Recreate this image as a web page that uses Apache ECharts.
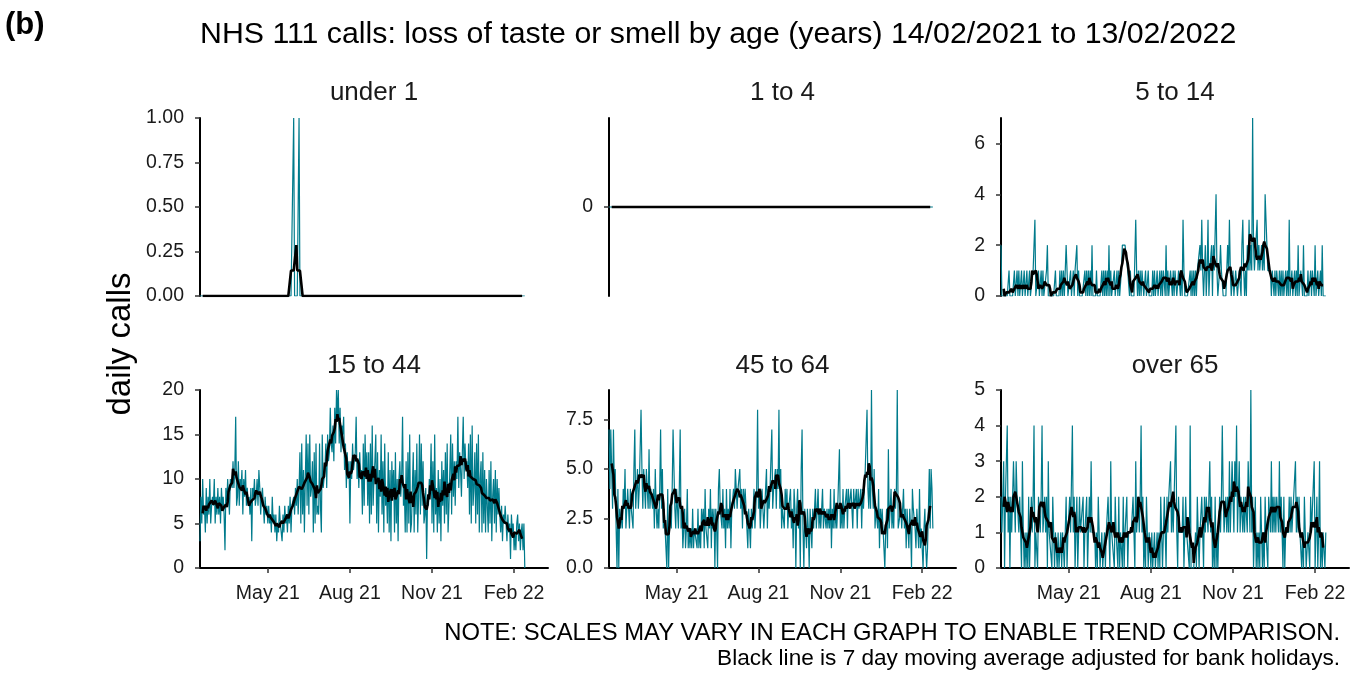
<!DOCTYPE html>
<html>
<head>
<meta charset="utf-8">
<script src="https://cdn.jsdelivr.net/npm/echarts@6/dist/echarts.min.js"></script>
<style>
  html, body { margin: 0; padding: 0; background: #ffffff; }
  #chart { width: 1362px; height: 673px; }
</style>
</head>
<body>
<div id="chart"></div>
<script>
// Daily NHS 111 calls (loss of taste or smell), one value per day from 14/02/2021
const START_DATE = '2021-02-14';
const panelNames = ['under 1', '1 to 4', '5 to 14', '15 to 44', '45 to 64', 'over 65'];

const callsUnder1 = [
  0,0,0,0,0,0,0, 0,0,0,0,0,0,0, 0,0,0,0,0,0,0, 0,0,0,0,0,0,0,
  0,0,0,0,0,0,0, 0,0,0,0,0,0,0, 0,0,0,0,0,0,0, 0,0,0,0,0,0,0,
  0,0,0,0,0,0,0, 0,0,0,0,0,0,0, 0,0,0,0,0,0,0, 0,0,0,0,0,0,0,
  0,0,0,0,0,0,0, 0,0,0,0,0,0,0, 0,0,0,0,0,0,0, 1,0,0,0,0,0,1,
  0,0,0,0,0,0,0, 0,0,0,0,0,0,0, 0,0,0,0,0,0,0, 0,0,0,0,0,0,0,
  0,0,0,0,0,0,0, 0,0,0,0,0,0,0, 0,0,0,0,0,0,0, 0,0,0,0,0,0,0,
  0,0,0,0,0,0,0, 0,0,0,0,0,0,0, 0,0,0,0,0,0,0, 0,0,0,0,0,0,0,
  0,0,0,0,0,0,0, 0,0,0,0,0,0,0, 0,0,0,0,0,0,0, 0,0,0,0,0,0,0,
  0,0,0,0,0,0,0, 0,0,0,0,0,0,0, 0,0,0,0,0,0,0, 0,0,0,0,0,0,0,
  0,0,0,0,0,0,0, 0,0,0,0,0,0,0, 0,0,0,0,0,0,0, 0,0,0,0,0,0,0,
  0,0,0,0,0,0,0, 0,0,0,0,0,0,0, 0,0,0,0,0,0,0, 0,0,0,0,0,0,0,
  0,0,0,0,0,0,0, 0,0,0,0,0,0,0, 0,0,0,0,0,0,0, 0,0,0,0,0,0,0,
  0,0,0,0,0,0,0, 0,0,0,0,0,0,0, 0,0,0,0,0,0,0, 0,0,0,0,0,0,0,
  0
];

const calls1to4 = [
  0,0,0,0,0,0,0, 0,0,0,0,0,0,0, 0,0,0,0,0,0,0, 0,0,0,0,0,0,0,
  0,0,0,0,0,0,0, 0,0,0,0,0,0,0, 0,0,0,0,0,0,0, 0,0,0,0,0,0,0,
  0,0,0,0,0,0,0, 0,0,0,0,0,0,0, 0,0,0,0,0,0,0, 0,0,0,0,0,0,0,
  0,0,0,0,0,0,0, 0,0,0,0,0,0,0, 0,0,0,0,0,0,0, 0,0,0,0,0,0,0,
  0,0,0,0,0,0,0, 0,0,0,0,0,0,0, 0,0,0,0,0,0,0, 0,0,0,0,0,0,0,
  0,0,0,0,0,0,0, 0,0,0,0,0,0,0, 0,0,0,0,0,0,0, 0,0,0,0,0,0,0,
  0,0,0,0,0,0,0, 0,0,0,0,0,0,0, 0,0,0,0,0,0,0, 0,0,0,0,0,0,0,
  0,0,0,0,0,0,0, 0,0,0,0,0,0,0, 0,0,0,0,0,0,0, 0,0,0,0,0,0,0,
  0,0,0,0,0,0,0, 0,0,0,0,0,0,0, 0,0,0,0,0,0,0, 0,0,0,0,0,0,0,
  0,0,0,0,0,0,0, 0,0,0,0,0,0,0, 0,0,0,0,0,0,0, 0,0,0,0,0,0,0,
  0,0,0,0,0,0,0, 0,0,0,0,0,0,0, 0,0,0,0,0,0,0, 0,0,0,0,0,0,0,
  0,0,0,0,0,0,0, 0,0,0,0,0,0,0, 0,0,0,0,0,0,0, 0,0,0,0,0,0,0,
  0,0,0,0,0,0,0, 0,0,0,0,0,0,0, 0,0,0,0,0,0,0, 0,0,0,0,0,0,0,
  0
];

const calls5to14 = [
  2,0,0,0,0,0,0, 0,0,1,0,0,0,0, 0,1,0,0,1,0,1, 0,0,1,0,0,1,0,
  0,1,0,0,1,0,0, 0,1,2,3,0,0,0, 1,0,0,1,0,1,0, 0,0,1,2,0,0,0,
  0,0,0,0,0,1,0, 0,0,0,1,0,1,0, 1,0,0,2,1,0,0, 0,1,0,0,1,0,1,
  1,2,0,1,0,0,0, 0,0,0,1,0,1,0, 1,0,1,0,2,0,0, 0,0,1,0,0,0,0,
  0,1,0,1,0,1,0, 1,0,2,0,1,0,0, 0,1,0,0,1,0,1, 0,0,1,2,2,2,2,
  2,2,1,1,0,1,0, 0,0,0,0,3,1,0, 1,0,1,0,1,1,0, 0,1,0,0,1,0,0,
  0,0,1,0,1,0,0, 1,0,0,1,0,1,0, 1,1,0,2,0,1,0, 0,1,1,0,1,0,1,
  1,0,0,1,1,0,1, 0,3,1,0,0,0,0, 0,0,1,0,1,0,1, 0,1,0,1,1,1,2,
  1,3,1,0,1,2,0, 1,3,0,1,1,2,0, 2,1,1,4,1,0,0, 1,2,1,1,0,0,0,
  0,0,2,1,3,1,0, 0,1,0,0,1,1,0, 0,1,1,0,2,3,1, 0,1,0,2,1,3,1,
  2,1,7,2,1,1,1, 3,1,2,1,1,2,1, 2,1,4,3,2,1,1, 1,1,0,1,1,0,1,
  0,1,1,0,1,0,1, 0,1,0,0,1,0,1, 0,3,0,0,1,0,0, 1,0,1,0,2,0,0,
  1,1,0,2,0,0,0, 0,1,0,0,1,0,1, 1,0,2,0,0,1,0, 0,1,0,2,0,0,0,
  0
];

const calls15to44 = [
  3,8,5,10,6,7,4,      9,5,8,6,10,5,7,      8,7,10,5,8,6,9,      6,8,5,9,7,8,6,
  2,9,7,10,8,6,10,     10,9,12,9,11,17,7,   8,12,7,10,9,11,6,    10,8,11,7,9,7,8,
  6,9,3,9,8,10,7,      8,10,7,11,9,6,8,     9,7,5,8,6,7,5,       7,5,6,4,8,5,6,
  4,6,3,5,4,7,5,       5,3,6,4,7,5,6,       4,7,5,8,4,7,7,       8,6,9,7,10,6,9,
  13,5,14,6,11,4,10,   15,7,14,6,15,8,9,    12,4,13,5,14,6,7,    6,14,7,4,15,9,10,
  11,14,9,15,12,13,18, 14,13,16,12,18,14,20, 17,20,14,18,13,16,15, 17,11,14,9,13,10,12,
  5,12,10,14,11,12,13, 17,10,12,9,13,10,11, 6,14,7,15,10,13,7,   13,5,14,6,16,7,10,
  12,15,5,13,4,11,8,   15,6,12,4,14,7,9,    5,13,4,11,3,12,8,    11,4,13,5,10,3,10,
  12,8,10,17,7,9,4,    12,4,13,5,15,4,5,    5,13,4,11,6,14,4,    8,15,6,14,7,12,5,
  6,9,1,8,7,10,9,      14,5,12,4,15,6,9,    4,11,5,10,3,12,7,    11,5,13,6,14,4,7,
  7,15,6,14,8,12,7,    12,10,17,9,13,11,8,  13,17,10,14,11,12,9, 14,6,15,5,16,7,9,
  13,5,14,6,15,4,10,   12,4,13,5,11,4,10,   10,4,11,5,12,3,8,    10,5,11,4,10,6,9,
  6,4,7,3,6,5,7,       5,3,6,4,5,1,6,       4,5,2,4,2,5,6,       3,5,2,4,5,2,5,
  0
];

const calls45to64 = [
  7,4,7,5,3,7,4, 5,2,0,4,0,3,2, 3,2,4,3,5,2,3, 4,3,2,4,3,3,2,
  5,7,3,4,5,3,4, 4,8,5,3,5,4,3, 5,4,3,6,3,4,4, 3,4,2,5,3,2,3,
  2,4,7,3,5,2,3, 2,1,0,4,0,2,3, 2,4,7,5,3,2,4, 3,2,4,7,2,3,1,
  2,3,1,2,4,1,2, 1,2,1,3,1,2,2, 2,1,3,1,2,1,3, 2,3,1,4,2,2,1,
  3,2,4,1,3,2,3, 0,3,2,0,4,5,3, 3,2,4,2,3,1,4, 2,3,2,4,1,3,3,
  4,3,5,4,3,4,4, 5,3,4,2,4,3,4, 3,2,1,3,2,1,3, 2,3,4,2,2,4,8,
  3,4,2,3,4,3,2, 3,4,5,2,4,3,4, 4,7,3,4,4,5,3, 5,4,8,3,5,2,3,
  3,2,4,3,4,2,3, 3,4,2,3,1,4,3, 0,3,4,2,3,0,5, 7,2,0,3,2,1,3,
  2,0,3,2,1,3,2, 3,4,2,3,4,2,3, 2,3,4,2,3,3,2, 3,2,3,2,4,1,3,
  2,4,2,3,2,3,3, 6,2,3,2,4,2,3, 3,4,2,4,3,3,4, 3,2,4,3,3,4,2,
  4,3,3,4,2,4,3, 4,5,5,8,4,3,5, 3,9,4,3,5,2,3, 3,2,4,1,3,2,3,
  2,1,0,2,3,1,6, 2,3,4,2,3,2,4, 3,4,9,2,2,2,3, 2,3,4,2,3,1,3,
  2,1,3,2,0,4,3, 3,2,1,3,2,1,4, 1,2,1,0,2,3,1, 0,1,3,5,2,5,4,
  2
];

const callsOver65 = [
  2,1,2,3,0,2,2, 4,1,2,0,2,1,2, 3,2,1,3,2,2,1, 2,1,0,3,1,0,1,
  0,1,0,2,0,1,2, 1,2,4,0,1,1,0, 2,2,1,2,4,1,1, 2,1,2,0,3,1,1,
  1,0,2,1,0,1,1, 0,1,0,0,1,0,1, 1,0,1,2,0,1,1, 2,1,1,4,1,2,0,
  1,2,0,1,2,1,1, 1,2,0,1,1,2,0, 1,2,1,3,1,1,1, 1,0,1,0,2,1,0,
  0,1,0,0,1,0,1, 1,2,1,0,3,1,1, 1,0,2,1,1,0,2, 0,1,1,0,2,0,1,
  1,2,0,1,1,1,1, 1,2,1,0,3,1,1, 2,1,2,4,1,2,0, 1,0,2,1,0,1,1,
  0,1,0,0,1,0,0, 1,0,1,0,2,1,0, 1,2,1,0,2,1,2, 2,3,1,2,1,2,2,
  4,1,0,2,1,1,1, 1,2,0,1,2,1,1, 1,0,4,0,0,0,0, 0,1,0,2,1,0,1,
  1,2,1,0,2,1,2, 2,1,1,3,1,2,0, 1,0,2,0,1,0,1, 2,1,2,4,2,1,1,
  2,1,2,1,3,1,2, 3,2,1,3,2,4,1, 2,3,1,2,2,1,2, 1,2,2,1,3,2,1,
  5,1,2,0,1,2,0, 1,0,1,0,2,1,0, 1,0,2,1,1,0,2, 2,1,3,1,2,1,2,
  1,2,2,1,3,1,2, 1,0,2,0,1,1,1, 1,2,1,2,1,1,2, 2,3,1,2,1,2,1,
  1,0,1,0,2,1,0, 0,1,1,0,2,1,1, 1,3,0,1,2,0,1, 3,0,1,0,1,1,0,
  1
];

const panelCalls = [callsUnder1, calls1to4, calls5to14, calls15to44, calls45to64, callsOver65];

// Tick marks
const monthTickDates = ['2021-05-01', '2021-08-01', '2021-11-01', '2022-02-01'];
const monthTickLabels = ['May 21', 'Aug 21', 'Nov 21', 'Feb 22'];
const yTickValues = [
  [0, 0.25, 0.5, 0.75, 1],
  [0],
  [0, 2, 4, 6],
  [0, 5, 10, 15, 20],
  [0, 2.5, 5, 7.5],
  [0, 1, 2, 3, 4, 5]
];

const titleText = 'NHS 111 calls: loss of taste or smell by age (years) 14/02/2021 to 13/02/2022';
const tagText = '(b)';
const yAxisTitle = 'daily calls';
const noteLines = [
  'NOTE: SCALES MAY VARY IN EACH GRAPH TO ENABLE TREND COMPARISON.',
  'Black line is 7 day moving average adjusted for bank holidays.'
];

// ---- layout / styling ----
const FONT = '"Liberation Sans", Arial, Helvetica, sans-serif';
const TEAL = '#007b8c';
const AXIS_DAYS = 390;            // x extent of each panel, in days from START_DATE
const LABEL_DECIMALS = [2, 0, 0, 0, 1, 0];
const GRIDS = [
  { left: 200,  top: 118, width: 348, height: 178 },
  { left: 609,  top: 118, width: 347, height: 178 },
  { left: 1001, top: 118, width: 348, height: 178 },
  { left: 200,  top: 390, width: 348, height: 178 },
  { left: 609,  top: 390, width: 347, height: 178 },
  { left: 1001, top: 390, width: 348, height: 178 }
];

const DAY_MS = 86400000;
function dayOffset(dateStr) {
  return Math.round((Date.parse(dateStr) - Date.parse(START_DATE)) / DAY_MS);
}
const monthTickDays = monthTickDates.map(dayOffset);

// centred 7-day moving average
function movingAverage(values) {
  const half = 3;
  const out = [];
  for (let i = half; i < values.length - half; i++) {
    let s = 0;
    for (let k = i - half; k <= i + half; k++) s += values[k];
    out.push([i, s / 7]);
  }
  return out;
}

const chart = echarts.init(document.getElementById('chart'), null, { renderer: 'canvas' });

const xAxes = [], yAxes = [], series = [], graphics = [];

panelCalls.forEach((vals, p) => {
  const bottomRow = p >= 3;
  const allZero = vals.every(v => v === 0);
  xAxes.push({
    type: 'value', gridIndex: p, min: 0, max: AXIS_DAYS,
    show: bottomRow,
    splitLine: { show: false },
    axisLine: { show: true, onZero: false, lineStyle: { color: '#000', width: 2 } },
    axisTick: { show: true, length: 5, customValues: monthTickDays, lineStyle: { color: '#333', width: 1.5 } },
    axisLabel: {
      show: true, customValues: monthTickDays, margin: 16,
      fontFamily: FONT, fontSize: 19.5, color: '#1a1a1a',
      formatter: v => monthTickLabels[monthTickDays.indexOf(Math.round(v))] || ''
    }
  });
  yAxes.push({
    type: 'value', gridIndex: p,
    min: allZero ? -1 : 0,
    max: allZero ? 1 : 'dataMax',
    splitLine: { show: false },
    axisLine: { show: true, onZero: false, lineStyle: { color: '#000', width: 2 } },
    axisTick: { show: true, length: 5, customValues: yTickValues[p], lineStyle: { color: '#333', width: 1.5 } },
    axisLabel: {
      customValues: yTickValues[p], margin: 16,
      fontFamily: FONT, fontSize: 19.5, color: '#1a1a1a',
      formatter: v => Number(v).toFixed(LABEL_DECIMALS[p])
    }
  });
  series.push({
    type: 'line', xAxisIndex: p, yAxisIndex: p,
    data: vals.map((v, i) => [i, v]),
    showSymbol: false, silent: true,
    lineStyle: { color: TEAL, width: 1.2 },
    z: 2
  });
  series.push({
    type: 'line', xAxisIndex: p, yAxisIndex: p,
    data: movingAverage(vals),
    showSymbol: false, silent: true,
    lineStyle: { color: '#000', width: 2.6 },
    z: 3
  });
  const g = GRIDS[p];
  graphics.push({
    type: 'text', x: g.left + g.width / 2, y: bottomRow ? 366 : 93,
    style: { text: panelNames[p], fontFamily: FONT, fontSize: 26, fill: '#1a1a1a', align: 'center', verticalAlign: 'middle' }
  });
});

graphics.push(
  { type: 'text', x: 5, y: 25,
    style: { text: tagText, fontFamily: FONT, fontSize: 31, fontWeight: 'bold', fill: '#000', align: 'left', verticalAlign: 'middle' } },
  { type: 'text', x: 200, y: 35,
    style: { text: titleText, fontFamily: FONT, fontSize: 30.3, fill: '#000', align: 'left', verticalAlign: 'middle' } },
  { type: 'text', x: 121, y: 344, rotation: Math.PI / 2,
    style: { text: yAxisTitle, fontFamily: FONT, fontSize: 33, fill: '#000', align: 'center', verticalAlign: 'middle' } },
  { type: 'text', x: 1340, y: 633,
    style: { text: noteLines[0], fontFamily: FONT, fontSize: 23.8, fill: '#000', align: 'right', verticalAlign: 'middle' } },
  { type: 'text', x: 1340, y: 659,
    style: { text: noteLines[1], fontFamily: FONT, fontSize: 22.6, fill: '#000', align: 'right', verticalAlign: 'middle' } }
);

chart.setOption({
  animation: false,
  backgroundColor: '#ffffff',
  grid: GRIDS.map(g => Object.assign({ containLabel: false }, g)),
  xAxis: xAxes,
  yAxis: yAxes,
  series: series,
  graphic: graphics
});
</script>
</body>
</html>
